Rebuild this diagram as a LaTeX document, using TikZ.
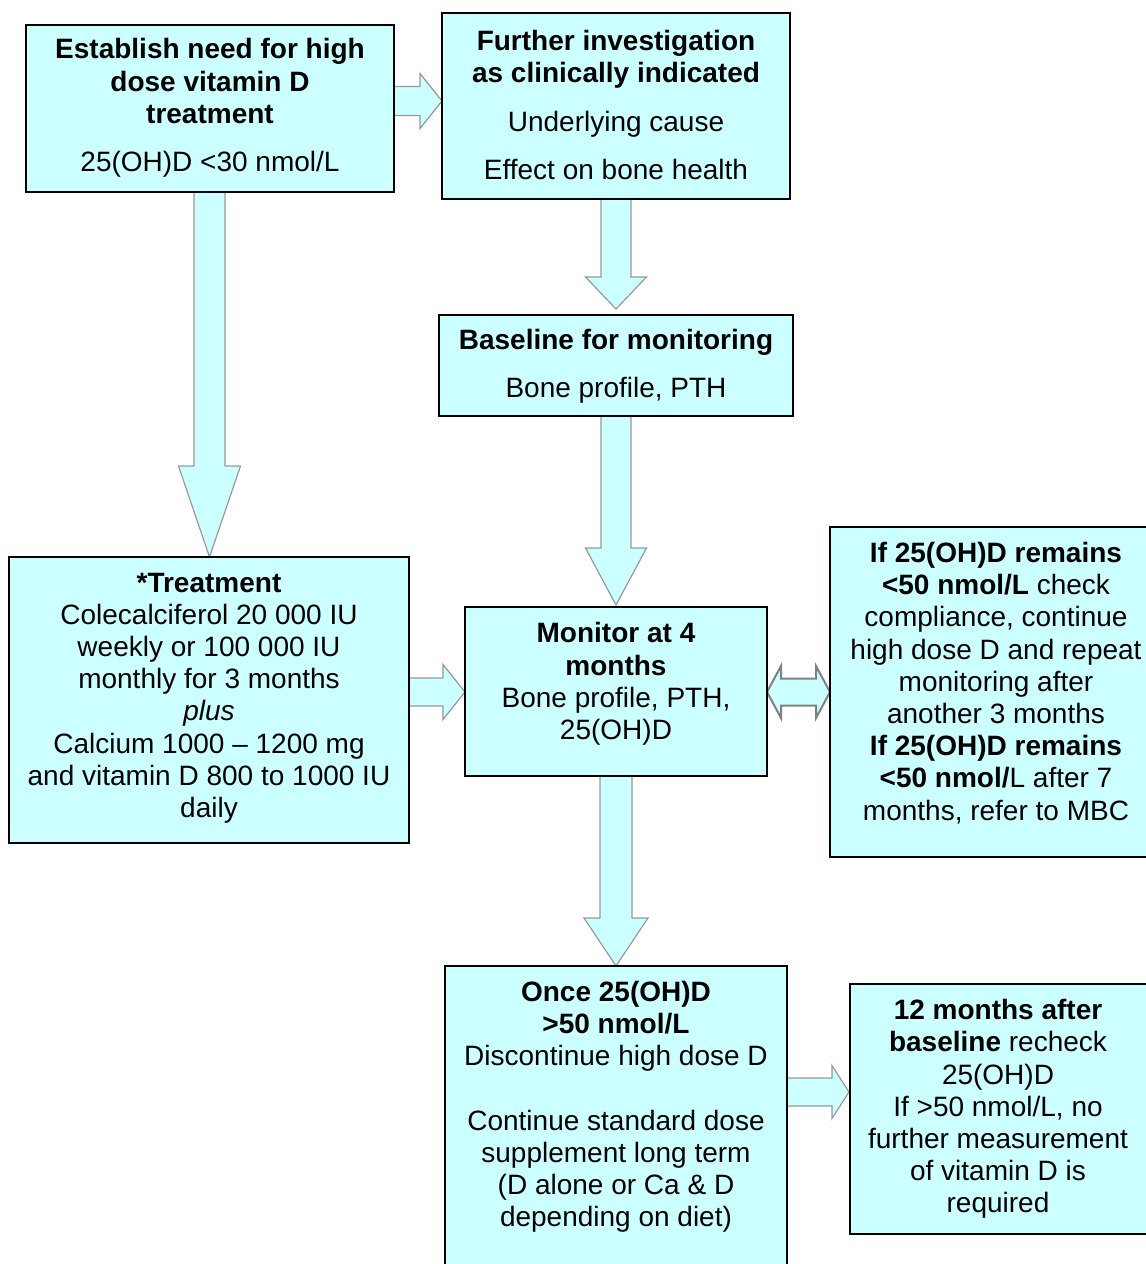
\documentclass[tikz,border=0pt]{standalone}
\usepackage{fontspec}
\setmainfont{Liberation Sans}
\usetikzlibrary{calc}
\definecolor{boxfill}{HTML}{CCFFFF}
\definecolor{arrowline}{HTML}{999999}
\pgfdeclarelayer{bg}
\pgfsetlayers{bg,main}
% down block arrow: from, to, shaft half, head half, head length (px)
\newcommand\dnblock[5]{%
  \draw[blockarrow] let \p1=(#1), \p2=(#2) in
    (\x1-#3*0.5pt,\y1) -- (\x1-#3*0.5pt,\y2+#5*0.5pt) -- (\x1-#4*0.5pt,\y2+#5*0.5pt)
    -- (\x1,\y2) -- (\x1+#4*0.5pt,\y2+#5*0.5pt) -- (\x1+#3*0.5pt,\y2+#5*0.5pt)
    -- (\x1+#3*0.5pt,\y1) -- cycle;}
% right block arrow
\newcommand\rtblock[5]{%
  \draw[blockarrow] let \p1=(#1), \p2=(#2) in
    (\x1,\y1+#3*0.5pt) -- (\x2-#5*0.5pt,\y1+#3*0.5pt) -- (\x2-#5*0.5pt,\y1+#4*0.5pt)
    -- (\x2,\y1) -- (\x2-#5*0.5pt,\y1-#4*0.5pt) -- (\x2-#5*0.5pt,\y1-#3*0.5pt)
    -- (\x1,\y1-#3*0.5pt) -- cycle;}
% double block arrow
\newcommand\lrblock[5]{%
  \draw[blockarrow,draw=gray,line width=1pt] let \p1=(#1), \p2=(#2) in
    (\x1,\y1) -- (\x1+#5*0.5pt,\y1+#4*0.5pt) -- (\x1+#5*0.5pt,\y1+#3*0.5pt)
    -- (\x2-#5*0.5pt,\y1+#3*0.5pt) -- (\x2-#5*0.5pt,\y1+#4*0.5pt) -- (\x2,\y1)
    -- (\x2-#5*0.5pt,\y1-#4*0.5pt) -- (\x2-#5*0.5pt,\y1-#3*0.5pt)
    -- (\x1+#5*0.5pt,\y1-#3*0.5pt) -- (\x1+#5*0.5pt,\y1-#4*0.5pt) -- cycle;}
\begin{document}
\begin{tikzpicture}[x=0.5pt,y=-0.5pt,
  box/.style={draw=black,line width=1pt,fill=boxfill,inner sep=0pt,outer sep=0pt,anchor=north west},
  txt/.style={align=center,inner sep=0pt,font=\fontsize{14pt}{16.1pt}\selectfont},
  blockarrow/.style={fill=boxfill,draw=arrowline,line width=0.6pt,line join=miter}]
\useasboundingbox (0,0) rectangle (1146,1264);

\node[box,minimum width=184pt,minimum height=83.5pt] (b1) at (26,25) {};
\node[box,minimum width=174pt,minimum height=93pt] (b2) at (442,13) {};
\node[box,minimum width=177pt,minimum height=50.5pt] (b3) at (439,315) {};
\node[box,minimum width=200pt,minimum height=143pt] (b4) at (9,557) {};
\node[box,minimum width=151pt,minimum height=84.5pt] (b5) at (465,607) {};
\node[box,minimum width=160pt,minimum height=165pt] (b6) at (830,527) {};
\node[box,minimum width=171pt,minimum height=155pt] (b7) at (445,966) {};
\node[box,minimum width=150pt,minimum height=125pt] (b8) at (850,984) {};

\node[txt] (t1) at (210,108) {\textbf{Establish need for high}\\\textbf{dose vitamin D}\\\textbf{treatment}\\[8pt]25(OH)D <30 nmol/L};
\node[txt] (t2) at (616,105) {\textbf{Further investigation}\\\textbf{as clinically indicated}\\[8pt]Underlying cause\\[8pt]Effect on bone health};
\node[txt] (t3) at (616,366) {\textbf{Baseline for monitoring}\\[8pt]Bone profile, PTH};
\node[txt] (t4) at (209,698) {\textbf{*Treatment}\\Colecalciferol 20 000 IU\\weekly or 100 000 IU\\monthly for 3 months\\\textit{plus}\\Calcium 1000 – 1200 mg\\and vitamin D 800 to 1000 IU\\daily};
\node[txt] (t5) at (616,684) {\textbf{Monitor at 4}\\\textbf{months}\\Bone profile, PTH,\\25(OH)D};
\node[txt] (t6) at (996,683) {\textbf{If 25(OH)D remains}\\\textbf{<50 nmol/L} check\\compliance, continue\\high dose D and repeat\\monitoring after\\another 3 months\\\textbf{If 25(OH)D remains}\\\textbf{<50 nmol/}L after 7\\months, refer to MBC};
\node[txt] (t7) at (616,1107) {\textbf{Once 25(OH)D}\\\textbf{>50 nmol/L}\\Discontinue high dose D\\[16.1pt]Continue standard dose\\supplement long term\\(D alone or Ca \& D\\depending on diet)};
\node[txt] (t8) at (998,1109) {\textbf{12 months after}\\\textbf{baseline} recheck\\25(OH)D\\If >50 nmol/L, no\\further measurement\\of vitamin D is\\required};

\coordinate (xm) at (616,0);
\coordinate (xl) at (209.5,0);
\coordinate (ya) at (0,101);
\coordinate (ym) at (0,692);
\coordinate (yb) at (0,1092);

\begin{pgfonlayer}{bg}
\rtblock{b1.east |- ya}{b2.west |- ya}{14.5}{27.5}{22}
\dnblock{b2.south -| xm}{$(b3.north -| xm)+(0,-6)$}{15}{30.5}{32}
\dnblock{b1.south -| xl}{b4.north -| xl}{15.5}{31}{91}
\dnblock{b3.south -| xm}{$(b5.north -| xm)+(0,-2)$}{15}{30.5}{57}
\rtblock{b4.east |- ym}{b5.west |- ym}{14}{27.5}{22}
\lrblock{b5.east |- ym}{b6.west |- ym}{13.5}{26}{14}
\dnblock{b5.south -| xm}{b7.north -| xm}{16}{32}{48}
\rtblock{b7.east |- yb}{$(b8.west |- yb)+(-1,0)$}{14}{26.5}{17}
\end{pgfonlayer}
\end{tikzpicture}
\end{document}
